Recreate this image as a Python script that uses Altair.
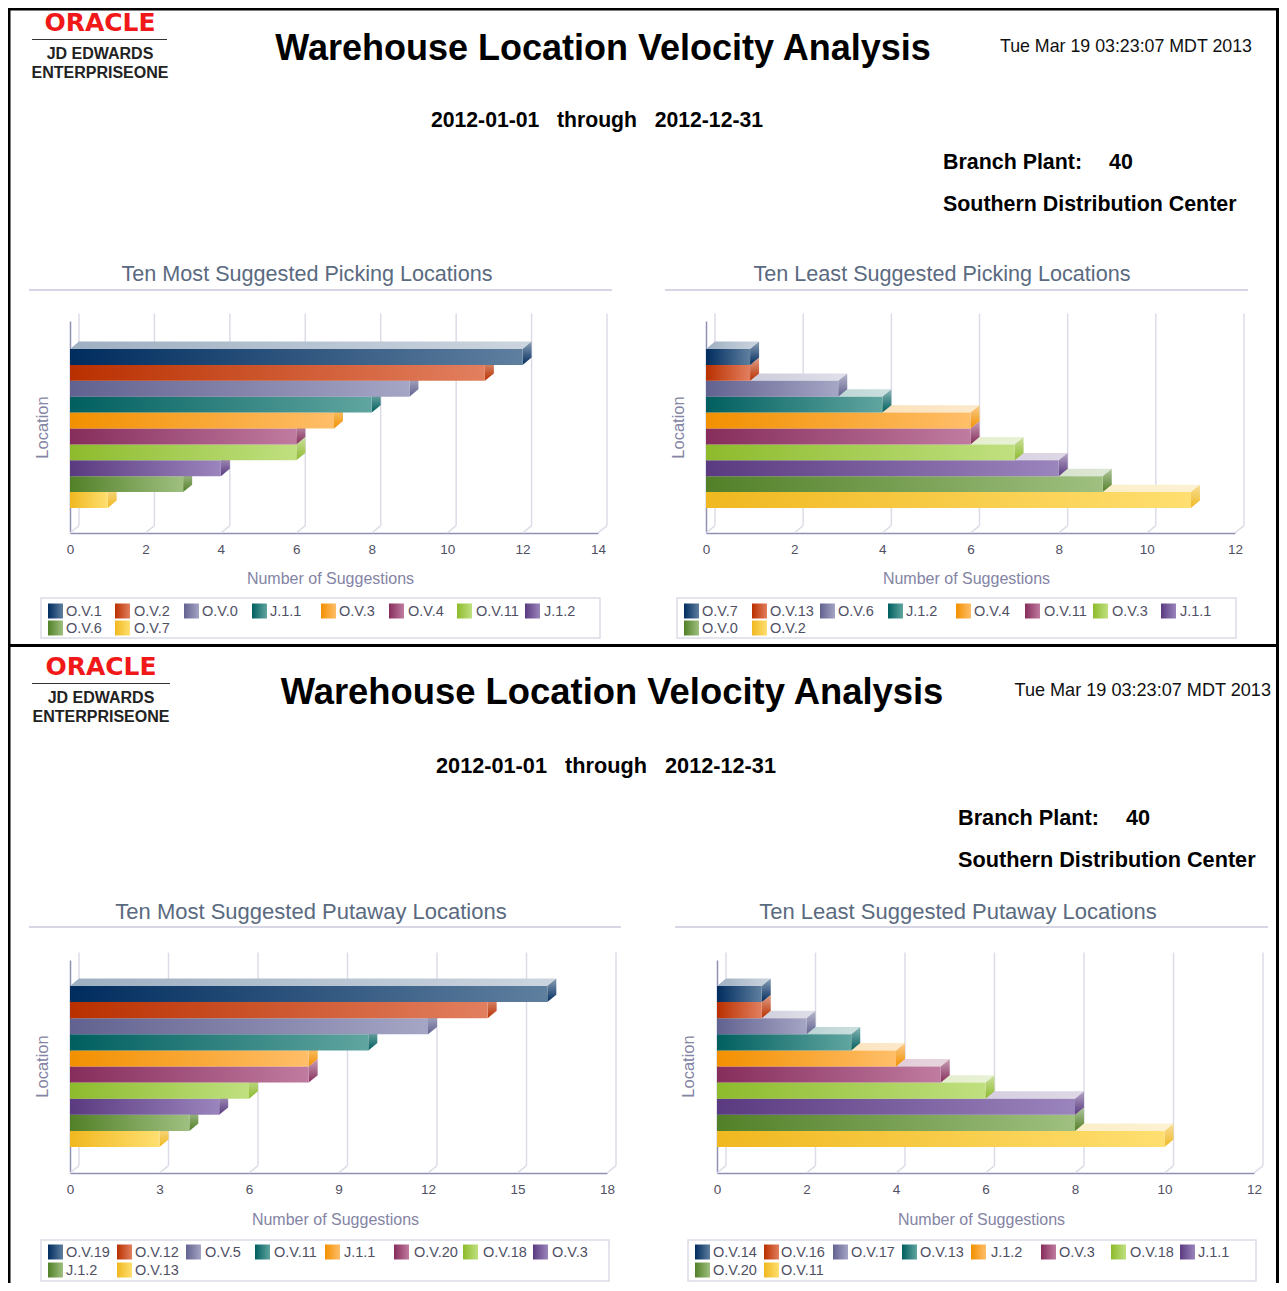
import altair as alt
import pandas as pd

# ---------- chart values ----------
p1_names = ["O.V.1","O.V.2","O.V.0","J.1.1","O.V.3","O.V.4","O.V.11","J.1.2","O.V.6","O.V.7"]
p1_vals = [12,11,9,8,7,6,6,4,3,1]
p2_names = ["O.V.7","O.V.13","O.V.6","J.1.2","O.V.4","O.V.11","O.V.3","J.1.1","O.V.0","O.V.2"]
p2_vals = [1,1,3,4,6,6,7,8,9,11]
p3_names = ["O.V.19","O.V.12","O.V.5","O.V.11","J.1.1","O.V.20","O.V.18","O.V.3","J.1.2","O.V.13"]
p3_vals = [16,14,12,10,8,8,6,5,4,3]
p4_names = ["O.V.14","O.V.16","O.V.17","O.V.13","J.1.2","O.V.3","O.V.18","J.1.1","O.V.20","O.V.11"]
p4_vals = [1,1,2,3,4,5,6,8,8,10]
ticks12 = [0,2,4,6,8,10,12]
ticks14 = [0,2,4,6,8,10,12,14]
ticks18 = [0,3,6,9,12,15,18]

# ---------- styles ----------
base_cols = ["#002c5e","#b93000","#626290","#005f5f","#f29000","#862d5c","#8dbb2c","#5a3a80","#528028","#f0b820"]
end_cols  = ["#5f7f9f","#e27f5f","#a5a5c5","#60a5a0","#ffbe69","#c07ba0","#c0e080","#9b85bd","#9fc080","#ffdf70"]
AXIS = "#9090b4"; GRID = "#dcdce8"; LABEL = "#505064"; ATITLE = "#8484a4"; TITLE = "#5a6a80"
SANS = "Liberation Sans"

def mix(c, t):
    r, g, b = int(c[1:3],16), int(c[3:5],16), int(c[5:7],16)
    f = lambda v: int(round(v + (255 - v) * t))
    return "#%02x%02x%02x" % (f(r), f(g), f(b))

def grad(a, b, vertical=False):
    return alt.LinearGradient(gradient="linear",
        stops=[alt.GradientStop(color=a, offset=0), alt.GradientStop(color=b, offset=1)],
        x1=0, x2=0 if vertical else 1, y1=0, y2=1 if vertical else 0)

def vtext(s, x, y, size, color="#000000", bold=False, align="left", font=SANS):
    return alt.Chart(pd.DataFrame({"t":[s]})).mark_text(
        font=font, fontSize=size, color=color, fontWeight="bold" if bold else "normal",
        align=align, baseline="middle").encode(x=alt.value(x), y=alt.value(y + 0.06 * size), text="t:N")

def box(x0, x1, y0, y1, **mk):
    return alt.Chart(pd.DataFrame({"a":[0]})).mark_rect(**mk).encode(
        x=alt.value(x0), x2=alt.value(x1), y=alt.value(y0), y2=alt.value(y1))

DX, DY = 9.0, 7.4

def panel(ox, oy, w, h, title, title_cx, title_cy, title_size, rule, names, vals, dmax, ticks,
          x0, x1, top, floor, bar_top, bar_bot, loc_x, loc_y, num_cx, num_y, lbox, sw_x, tx_x, rows):
    X0, X1, T, F = x0-ox, x1-ox, top-oy, floor-oy
    bh = (bar_bot - bar_top) / 10.0
    dmin_y = -(bar_top - top) / bh
    dmax_y = 10 + (floor - bar_bot) / bh
    xu = dmax / float(x1 - x0)
    dxu, dyu = DX * xu, DY / bh
    xs = alt.Scale(domain=[0, dmax], range=[X0, X1], nice=False, zero=False)
    ys = alt.Scale(domain=[dmin_y, dmax_y], range=[T, F], nice=False, zero=False)
    xaxis = alt.Axis(title="Number of Suggestions", values=ticks, ticks=False, grid=False, labelFont=SANS,
        labelFontSize=13.5, labelColor=LABEL, labelPadding=9, labelOverlap=False, labelFlush=False, labelBound=False,
        domainColor=AXIS, domainWidth=1.5, titleFont=SANS, titleFontSize=16, titleFontWeight="normal",
        titleColor=ATITLE, titleX=num_cx-ox, titleY=num_y-floor, titleBaseline="middle",
        offset=-(h-F), format="d")
    yaxis = alt.Axis(title="Location", labels=False, ticks=False, grid=False, domainColor=AXIS, domainWidth=1.5,
        titleFont=SANS, titleFontSize=16.5, titleFontWeight="normal", titleColor=ATITLE,
        titleX=loc_x-x0, titleY=loc_y-oy, titleBaseline="middle", offset=-X0)
    Xn = lambda f="x": alt.X(f"{f}:Q", scale=xs, axis=xaxis)
    Yn = lambda f="y": alt.Y(f"{f}:Q", scale=ys, axis=yaxis)
    layers = []
    layers.append(vtext(title, title_cx-ox, title_cy-oy, title_size, color=TITLE, align="center"))
    layers.append(box(rule[0]-ox, rule[1]-ox, rule[2]-oy-1, rule[2]-oy+1, fill="#d6d6e4"))
    walls = list(ticks)
    back = pd.DataFrame({"x":[v+dxu for v in walls], "y":[dmin_y-dyu]*len(walls), "y2":[dmax_y-dyu]*len(walls)})
    diag = pd.DataFrame({"x":walls, "x2":[v+dxu for v in walls], "y":[dmax_y]*len(walls), "y2":[dmax_y-dyu]*len(walls)})
    layers.append(alt.Chart(back).mark_rule(color=GRID, strokeWidth=1.5).encode(x=Xn(), y=Yn(), y2="y2:Q"))
    layers.append(alt.Chart(diag).mark_rule(color=GRID, strokeWidth=1.5).encode(x=Xn(), x2="x2:Q", y=Yn(), y2="y2:Q"))
    # bars painted from the lowest one upward
    for i in range(9, -1, -1):
        v = vals[i]; b = base_cols[i]; e = end_cols[i]
        topf = pd.DataFrame({"y":[i-dyu, i], "x":[dxu, 0], "x2":[v+dxu, v]})
        layers.append(alt.Chart(topf).mark_area(orient="horizontal", fill=grad(mix(b,.62), mix(b,.8))).encode(
            x=Xn(), x2="x2:Q", y=Yn()))
        side = pd.DataFrame({"x":[v, v+dxu], "y":[i, i-dyu], "y2":[i+1, i+1-dyu]})
        layers.append(alt.Chart(side).mark_area(orient="vertical", fill=grad(mix(b,.55), b, True)).encode(
            x=Xn(), y=Yn(), y2="y2:Q"))
        front = pd.DataFrame({"x":[0], "x2":[v], "y":[i], "y2":[i+1]})
        layers.append(alt.Chart(front).mark_rect(fill=grad(b, e)).encode(
            x=Xn(), x2="x2:Q", y=Yn(), y2="y2:Q"))
    # legend
    layers.append(box(lbox[0]-ox, lbox[1]-ox, lbox[2]-oy, lbox[3]-oy, fill="#ffffff", stroke="#dcdce8", strokeWidth=1.5))
    for i, n in enumerate(names):
        ry = rows[0] if i < 8 else rows[1]
        j = i if i < 8 else i - 8
        layers.append(box(sw_x[j]-ox, sw_x[j]+15-ox, ry-7.5-oy, ry+7.5-oy, fill=grad(base_cols[i], end_cols[i])))
        layers.append(vtext(n, tx_x[j]-ox, ry-oy, 14.5, color=LABEL))
    return layers

def header(ox, oy, logo_cx, y_logo, y_rule, rule_x, y_jd, y_ent, t_cx, t_y, t_size, date_x, date_y, date_size,
           range_cx, range_y, range_size, bp_x, bp40_x, bp_y, sdc_y, b_size):
    return [
        vtext("ORACLE", logo_cx-ox, y_logo-oy, 25, color="#f01818", bold=True, align="center", font="DejaVu Sans"),
        box(rule_x[0]-ox, rule_x[1]-ox, y_rule-oy, y_rule+1-oy, fill="#333333"),
        vtext("JD EDWARDS", logo_cx-ox, y_jd-oy, 16, color="#222222", bold=True, align="center"),
        vtext("ENTERPRISEONE", logo_cx-ox, y_ent-oy, 16, color="#222222", bold=True, align="center"),
        vtext("Warehouse Location Velocity Analysis", t_cx-ox, t_y-oy, t_size, bold=True, align="center"),
        vtext("Tue Mar 19 03:23:07 MDT 2013", date_x-ox, date_y-oy, date_size, color="#111111", align="right"),
        vtext("2012-01-01\u00a0\u00a0 through\u00a0\u00a0 2012-12-31", range_cx-ox, range_y-oy, range_size, bold=True, align="center"),
        vtext("Branch Plant:", bp_x-ox, bp_y-oy, b_size, bold=True),
        vtext("40", bp40_x-ox, bp_y-oy, b_size, bold=True),
        vtext("Southern Distribution Center", bp_x-ox, sdc_y-oy, b_size, bold=True),
    ]

W1, W2, H1, H2 = 636, 635, 638, 637
TOTW, TOTH = W1 + W2, H1 + H2
borders_top = [box(0, TOTW, 0, 2.5, fill="#000000"), box(0, 2.5, 0, TOTH, fill="#000000"),
               box(TOTW-3, TOTW, 0, TOTH, fill="#000000"), box(0, TOTW, 636, 639, fill="#000000")]

q1 = panel(8, 8, W1, H1, "Ten Most Suggested Picking Locations", 307, 274, 21.6, (29,612,290), p1_names, p1_vals, 14, ticks14,
           70, 598, 321, 533, 349, 508, 42, 427, 330, 578, (41,600,598,638),
           [48,115,184,252,321,389,457,525], [66,134,202,270,339,408,476,544], (611,628))
q2 = panel(644, 8, W2, H1, "Ten Least Suggested Picking Locations", 942, 274, 21.6, (665,1248,290), p2_names, p2_vals, 12, ticks12,
           706, 1235, 321, 533, 349, 508, 678, 427, 966, 578, (677,1236,598,638),
           [684,752,820,888,956,1025,1093,1161], [702,770,838,906,974,1044,1112,1180], (611,628))
q3 = panel(8, 646, W1, H2, "Ten Most Suggested Putaway Locations", 311, 911, 22, (29,621,927), p3_names, p3_vals, 18, ticks18,
           70, 607, 960, 1173, 986, 1147, 42, 1066, 335, 1219, (41,609,1240,1281),
           [48,117,186,255,325,394,463,533], [66,135,205,274,344,414,483,552], (1252,1270))
q4 = panel(644, 646, W2, H2, "Ten Least Suggested Putaway Locations", 958, 911, 22, (675,1268,927), p4_names, p4_vals, 12, ticks12,
           717, 1254, 960, 1173, 986, 1147, 688, 1066, 981, 1219, (688,1256,1240,1281),
           [695,764,833,902,971,1041,1111,1180], [713,781,851,920,991,1059,1130,1198], (1252,1270))

h1 = header(8, 8, 100, 21, 39, (32,167), 53, 72, 603, 47, 36, 1252, 46, 17.8, 597, 120, 21.2, 943, 1109, 162, 204, 21.4)
h2 = header(8, 646, 101, 665, 683, (32,170), 697, 716, 612, 691, 36.4, 1271, 690, 18.1, 606, 765, 21.7, 958, 1126, 817, 859, 21.7)

c1 = alt.layer(*(borders_top + h1 + q1)).properties(width=W1, height=H1)
c2 = alt.layer(*q2).properties(width=W2, height=H1)
c3 = alt.layer(*(h2 + q3)).properties(width=W1, height=H2)
c4 = alt.layer(*q4).properties(width=W2, height=H2)

chart = alt.concat(c1, c2, c3, c4, columns=2, spacing=0).properties(
    padding=0, bounds="flush", background="#ffffff"
).configure_view(stroke=None)

chart.save("out.html", embed_options={"renderer": "svg", "actions": False})
